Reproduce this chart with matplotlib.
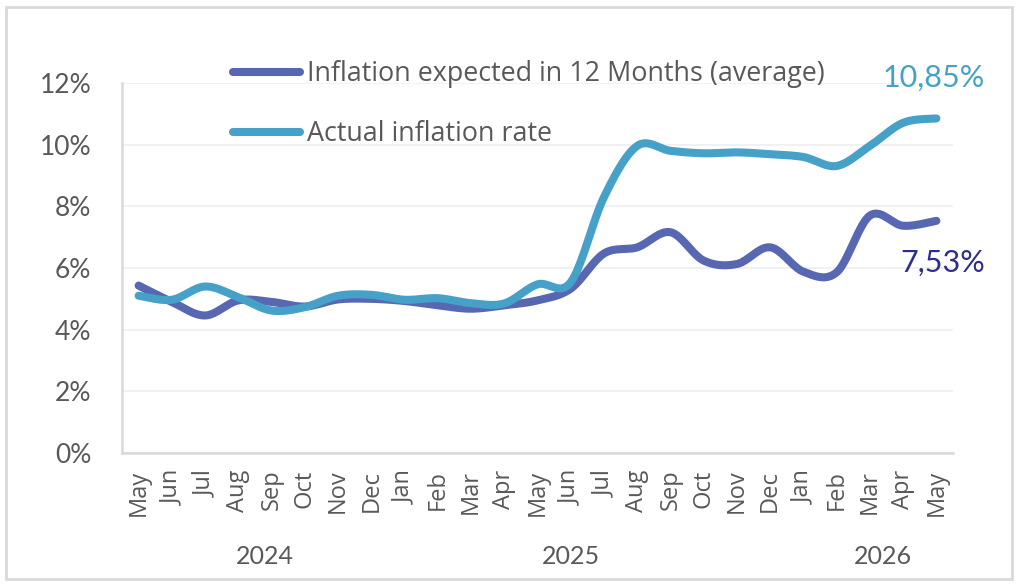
import numpy as np
import matplotlib
matplotlib.use('Agg')
import matplotlib.pyplot as plt
from matplotlib.patches import Rectangle
from matplotlib.ticker import FuncFormatter

months = ['May', 'Jun', 'Jul', 'Aug', 'Sep', 'Oct', 'Nov', 'Dec',
          'Jan', 'Feb', 'Mar', 'Apr', 'May', 'Jun', 'Jul', 'Aug', 'Sep',
          'Oct', 'Nov', 'Dec', 'Jan', 'Feb', 'Mar', 'Apr', 'May']
years = ['2024', '2025', '2026']
year_pos = [3.8, 13.0, 22.4]

expected = [5.43, 4.9, 4.46, 4.95, 4.9, 4.75, 4.98, 5.0, 4.93, 4.79, 4.68,
            4.79, 4.95, 5.33, 6.47, 6.67, 7.16, 6.24, 6.13, 6.67, 5.88, 5.86,
            7.7, 7.37, 7.53]
actual = [5.1, 4.97, 5.4, 5.05, 4.62, 4.73, 5.1, 5.13, 4.97, 5.02, 4.86,
          4.85, 5.47, 5.54, 8.3, 9.96, 9.8, 9.72, 9.75, 9.69, 9.6, 9.31,
          9.96, 10.71, 10.85]

DARK = '#5767B1'
LIGHT = '#45A1C8'
TXT = '#595959'


def smooth(y, n=20):
    # Catmull-Rom style smoothing, like Excel's "smoothed line"
    y = np.asarray(y, dtype=float)
    x = np.arange(len(y), dtype=float)
    px = np.concatenate([[x[0]], x, [x[-1]]])
    py = np.concatenate([[y[0]], y, [y[-1]]])
    xs, ys = [], []
    t = np.linspace(0, 1, n, endpoint=False)
    for i in range(1, len(px) - 2):
        p0x, p1x, p2x, p3x = px[i - 1:i + 3]
        p0y, p1y, p2y, p3y = py[i - 1:i + 3]
        c1x, c1y = p1x + (p2x - p0x) / 6, p1y + (p2y - p0y) / 6
        c2x, c2y = p2x - (p3x - p1x) / 6, p2y - (p3y - p1y) / 6
        bx = ((1 - t) ** 3 * p1x + 3 * (1 - t) ** 2 * t * c1x
              + 3 * (1 - t) * t ** 2 * c2x + t ** 3 * p2x)
        by = ((1 - t) ** 3 * p1y + 3 * (1 - t) ** 2 * t * c1y
              + 3 * (1 - t) * t ** 2 * c2y + t ** 3 * p2y)
        xs.extend(bx)
        ys.extend(by)
    xs.append(x[-1])
    ys.append(y[-1])
    return np.array(xs), np.array(ys) / 100


fig = plt.figure(figsize=(10.18, 5.86), dpi=100)
fig.patches.append(Rectangle((6 / 1018, 7 / 586), 1006 / 1018, 572 / 586,
                             transform=fig.transFigure, fill=False,
                             edgecolor='#D9D9D9', linewidth=2))
ax = fig.add_axes([122 / 1018, 1 - 453 / 586, 831 / 1018, 370 / 586])

x1, y1 = smooth(expected)
x2, y2 = smooth(actual)
ax.plot(x1, y1, color=DARK, lw=5.8, solid_capstyle='round',
        label='Inflation expected in 12 Months (average)', zorder=3)
ax.plot(x2, y2, color=LIGHT, lw=5.8, solid_capstyle='round',
        label='Actual inflation rate', zorder=3)

ax.set_xlim(-0.5, len(months) - 0.5)
ax.set_ylim(0, 0.12)
ax.set_yticks(np.arange(0, 0.121, 0.02))
ax.yaxis.set_major_formatter(FuncFormatter(lambda v, p: f'{v * 100:.0f}%'))
ax.grid(axis='y', color='#F0F0F0', lw=1.3)
ax.set_axisbelow(True)
for s in ['top', 'right']:
    ax.spines[s].set_visible(False)
for s in ['left', 'bottom']:
    ax.spines[s].set_color('#D9D9D9')
    ax.spines[s].set_linewidth(1.8)

ax.set_xticks(range(len(months)))
ax.set_xticklabels(months, rotation=90, fontfamily='Open Sans',
                   fontsize=17, color=TXT)
ax.tick_params(axis='x', length=0, pad=12)
ax.tick_params(axis='y', length=0, pad=22, labelsize=19, labelcolor=TXT)
for lab in ax.get_yticklabels():
    lab.set_fontfamily('Lato')

for yr, xp in zip(years, year_pos):
    fig.text((122 + (xp + 0.5) * 831 / 25) / 1018, 1 - 556 / 586, yr,
             ha='center', va='center', fontfamily='Lato', fontsize=18,
             color=TXT)

ax.text(25.46, 0.0616, f'{expected[-1]:.2f}%'.replace('.', ','),
        ha='right', va='center', fontfamily='Lato', fontsize=22,
        color='#2E2D8C', clip_on=False)
ax.text(25.46, 0.1216, f'{actual[-1]:.2f}%'.replace('.', ','),
        ha='right', va='center', fontfamily='Lato', fontsize=22,
        color=LIGHT, clip_on=False)

leg = ax.legend(loc='upper left', bbox_to_anchor=(0.1336, 1.062),
                frameon=False, borderpad=0, borderaxespad=0,
                prop={'family': 'Open Sans', 'size': 19.4}, labelcolor=TXT,
                handlelength=2.5, handletextpad=0.26, labelspacing=1.19)

fig.savefig('out.png', dpi=100)
